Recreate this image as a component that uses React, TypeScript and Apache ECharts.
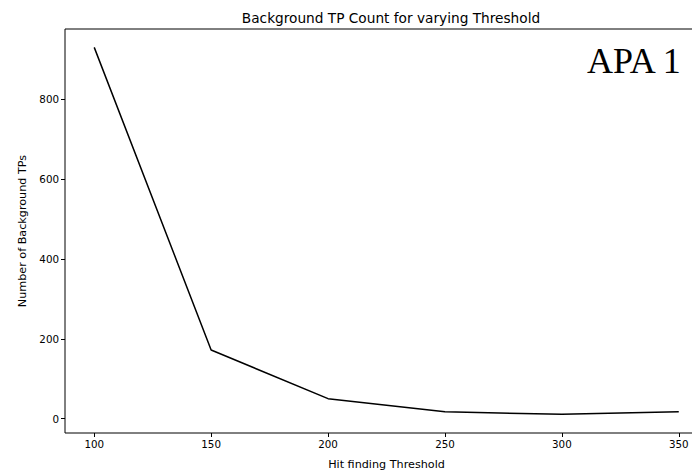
import React, { useEffect, useRef } from "react";
import * as echarts from "echarts";

const thresholds = [100, 150, 200, 250, 300, 350];
const backgroundTPs = [930, 172, 50, 17, 11, 17];
const xTicks = [100, 150, 200, 250, 300, 350];
const yTicks = [0, 200, 400, 600, 800];

export default function App() {
  const ref = useRef<HTMLDivElement>(null);
  useEffect(() => {
    document.body.style.margin = "0";
    const chart = echarts.init(ref.current!, null, { renderer: "svg" });
    const font = "'DejaVu Sans', sans-serif";
    chart.setOption({
      animation: false,
      backgroundColor: "#fff",
      title: {
        text: "Background TP Count for varying Threshold",
        left: 386,
        top: 6,
        textAlign: "center",
        textStyle: { fontFamily: font, fontSize: 13.7, fontWeight: "normal", color: "#000" },
      },
      grid: {
        left: 65,
        right: 12,
        top: 29,
        bottom: 41,
        show: true,
        borderColor: "#000",
        borderWidth: 1,
        backgroundColor: "transparent",
      },
      xAxis: {
        type: "value",
        min: 87.5,
        max: 362.5,
        name: "Hit finding Threshold",
        nameLocation: "middle",
        nameGap: 26,
        nameTextStyle: { fontFamily: font, fontSize: 11.2, color: "#000" },
        axisLine: { show: false, onZero: false },
        splitLine: { show: false },
        axisTick: { show: true, length: 4, lineStyle: { color: "#000" }, customValues: xTicks },
        axisLabel: { fontFamily: font, fontSize: 10.3, color: "#000", margin: 6, customValues: xTicks },
      },
      yAxis: {
        type: "value",
        min: -36,
        max: 976,
        name: "Number of Background TPs",
        nameLocation: "middle",
        nameGap: 36,
        nameRotate: 90,
        nameTextStyle: { fontFamily: font, fontSize: 11.2, color: "#000" },
        axisLine: { show: false, onZero: false },
        splitLine: { show: false },
        axisTick: { show: true, length: 4, lineStyle: { color: "#000" }, customValues: yTicks },
        axisLabel: { fontFamily: font, fontSize: 10.3, color: "#000", margin: 6, customValues: yTicks },
      },
      series: [
        {
          type: "line",
          data: thresholds.map((t, i) => [t, backgroundTPs[i]]),
          showSymbol: false,
          symbol: "none",
          lineStyle: { color: "#000", width: 1.5 },
        },
      ],
      graphic: [
        {
          type: "text",
          left: 587,
          top: 43,
          style: {
            text: "APA 1",
            font: "36px 'Liberation Serif', 'Times New Roman', serif",
            fill: "#000",
          },
        },
      ],
    });
    return () => chart.dispose();
  }, []);
  return (
    <div style={{ width: 692, height: 475, overflow: "hidden" }}>
      <div ref={ref} style={{ width: 720, height: 475 }} />
    </div>
  );
}
